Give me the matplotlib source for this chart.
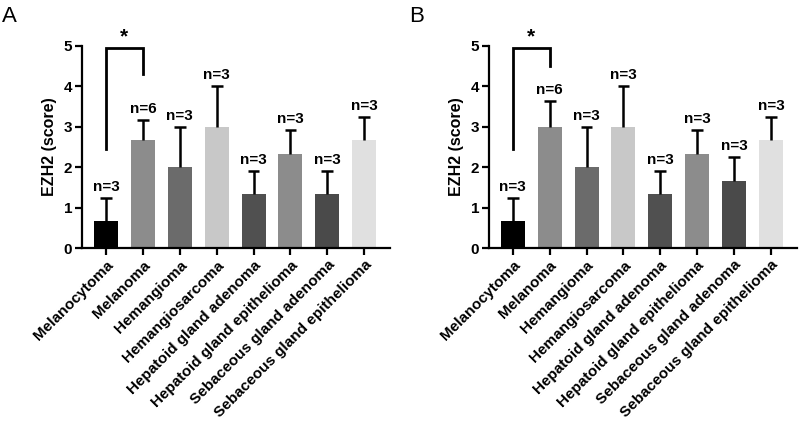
import matplotlib.pyplot as plt
import numpy as np

plt.rcParams['font.family'] = ['Liberation Sans', 'DejaVu Sans']
plt.rcParams['font.weight'] = 'bold'

categories = ["Melanocytoma", "Melanoma", "Hemangioma", "Hemangiosarcoma",
              "Hepatoid gland adenoma", "Hepatoid gland epithelioma",
              "Sebaceous gland adenoma", "Sebaceous gland epithelioma"]
n_labels = ["n=3", "n=6", "n=3", "n=3", "n=3", "n=3", "n=3", "n=3"]
colors = ["#000000", "#8c8c8c", "#6b6b6b", "#c8c8c8",
          "#505050", "#8c8c8c", "#4a4a4a", "#e0e0e0"]

means_a = [0.67, 2.67, 2.0, 3.0, 1.33, 2.33, 1.33, 2.67]
err_a = [0.58, 0.5, 1.0, 1.0, 0.58, 0.58, 0.58, 0.58]
means_b = [0.67, 3.0, 2.0, 3.0, 1.33, 2.33, 1.67, 2.67]
err_b = [0.58, 0.63, 1.0, 1.0, 0.58, 0.58, 0.58, 0.58]

fig = plt.figure(figsize=(8, 4.25), dpi=100)


def panel(rect, means, errs, letter, bracket_right):
    ax = fig.add_axes(rect)
    x = np.arange(len(categories))
    means = np.array(means)
    tops = means + np.array(errs)
    ax.bar(x, means, width=0.65, color=colors, zorder=2)
    # upper error bars only
    ax.vlines(x, means, tops, color="black", lw=1.8, zorder=3)
    ax.hlines(tops, x - 0.16, x + 0.16, color="black", lw=1.8, zorder=3)
    for xi, t, lab in zip(x, tops, n_labels):
        ax.text(xi, t + 0.1, lab, ha="center", va="bottom",
                fontsize=11, fontweight="bold")
    # significance bracket
    ax.plot([0, 0, 1, 1], [2.45, 4.95, 4.95, bracket_right], color="black",
            lw=2, solid_joinstyle="miter", clip_on=False, zorder=4)
    ax.text(0.5, 5.0, "*", ha="center", va="bottom", fontsize=15, fontweight="bold")

    ax.set_xlim(-0.65, 7.7)
    ax.set_ylim(0, 5)
    ax.set_yticks([0, 1, 2, 3, 4, 5])
    ax.set_xticks(x)
    ax.set_xticklabels(categories, rotation=45, ha="right", rotation_mode="anchor",
                       fontsize=11, fontweight="bold")
    for lab in ax.get_yticklabels():
        lab.set_fontweight("bold")
        lab.set_fontsize(11)
    ax.set_ylabel("EZH2 (score)", fontsize=11.5, fontweight="bold", labelpad=5)
    ax.spines["top"].set_visible(False)
    ax.spines["right"].set_visible(False)
    ax.spines["left"].set_linewidth(1.6)
    ax.spines["bottom"].set_linewidth(1.6)
    ax.tick_params(width=1.6, length=5, pad=2)
    fig.text(rect[0] - 0.1, 0.962, letter, fontsize=16, fontweight="normal", va="center")
    return ax


panel([0.1025, 0.416, 0.385, 0.476], means_a, err_a, "A", 4.3)
panel([0.611, 0.416, 0.385, 0.476], means_b, err_b, "B", 4.5)

plt.savefig("out.png", dpi=100)
